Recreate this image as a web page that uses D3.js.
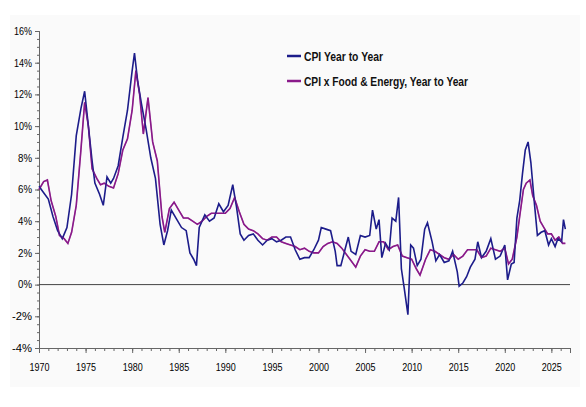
<!DOCTYPE html>
<html><head><meta charset="utf-8">
<script src="https://cdn.jsdelivr.net/npm/d3@7"></script>
<style>body{margin:0;background:#fff}svg{display:block}text{font-family:"Liberation Sans","Arial",sans-serif}</style>
</head><body><svg id="c" width="586" height="407"></svg>
<script>
const cpiYears=[1970,1970.5,1971,1971.5,1972,1972.5,1973,1973.5,1974,1974.5,1974.9,1975.3,1975.7,1976,1976.5,1976.9,1977.3,1977.7,1978,1978.5,1979,1979.5,1980,1980.25,1980.6,1981,1981.5,1982,1982.5,1983,1983.4,1983.8,1984.2,1984.8,1985.3,1985.8,1986.2,1986.6,1986.9,1987.2,1987.8,1988.3,1988.8,1989.3,1989.8,1990.3,1990.8,1991.2,1991.6,1992,1992.5,1993,1993.5,1994,1994.5,1995,1995.5,1996,1996.5,1997,1997.5,1998,1998.5,1999,1999.5,2000,2000.3,2000.8,2001.3,2001.8,2002,2002.4,2002.8,2003.2,2003.5,2004,2004.5,2005,2005.5,2005.8,2006.2,2006.5,2006.8,2007.2,2007.6,2007.9,2008.3,2008.6,2008.9,2009.2,2009.6,2009.9,2010.2,2010.6,2011,2011.4,2011.7,2012.2,2012.6,2013,2013.5,2014,2014.4,2014.9,2015.1,2015.5,2015.9,2016.3,2016.8,2017.1,2017.5,2018,2018.5,2019,2019.5,2020,2020.3,2020.7,2021,2021.3,2021.6,2021.9,2022.2,2022.5,2022.8,2023.2,2023.5,2023.9,2024.3,2024.7,2025,2025.4,2025.7,2026.1,2026.3,2026.5];
const cpiValues=[6.2,5.8,5.4,4.3,3.4,2.9,3.6,5.7,9.4,11.1,12.2,10.0,7.8,6.4,5.7,5.0,6.8,6.4,6.7,7.5,9.3,11.0,13.5,14.6,12.8,11.4,9.8,8.0,6.7,3.8,2.5,3.4,4.7,4.1,3.6,3.4,2.0,1.6,1.2,3.6,4.4,4.0,4.2,5.1,4.6,5.0,6.3,4.9,3.2,2.8,3.1,3.2,2.8,2.5,2.8,2.9,2.7,2.8,3.0,3.0,2.2,1.6,1.7,1.7,2.2,2.8,3.6,3.5,3.4,2.1,1.2,1.2,2.1,3.0,2.1,1.9,3.1,3.0,3.1,4.7,3.5,4.1,1.7,2.6,2.2,4.2,4.0,5.5,1.0,-0.2,-1.9,2.5,2.3,1.2,1.6,3.5,3.9,2.7,1.5,1.9,1.4,1.5,2.1,0.8,-0.1,0.1,0.5,1.1,1.6,2.7,1.7,2.1,2.9,1.6,1.8,2.5,0.3,1.3,1.4,4.2,5.3,7.0,8.5,9.0,7.7,5.0,3.1,3.3,3.4,2.5,2.9,2.4,2.9,2.7,4.1,3.5];
const coreYears=[1970,1970.5,1970.9,1971.3,1971.8,1972.2,1972.7,1973.1,1973.5,1974,1974.5,1974.9,1975.3,1975.7,1976.2,1976.6,1977,1977.5,1978,1978.5,1979,1979.5,1980,1980.4,1980.8,1981.2,1981.7,1982.2,1982.7,1983.2,1983.5,1984,1984.5,1985,1985.5,1986,1986.5,1987,1987.5,1988,1988.5,1989,1989.5,1990,1990.5,1991,1991.5,1992,1992.5,1993,1993.5,1994,1994.5,1995,1995.5,1996,1996.5,1997,1997.5,1998,1998.5,1999,1999.5,2000,2000.5,2001,2001.5,2002,2002.5,2003,2003.5,2004,2004.5,2005,2005.5,2006,2006.5,2007,2007.5,2008,2008.5,2009,2009.5,2010,2010.5,2010.9,2011.5,2012,2012.5,2013,2013.5,2014,2014.5,2015,2015.5,2016,2016.5,2017,2017.5,2018,2018.5,2019,2019.5,2020,2020.4,2020.8,2021.3,2021.6,2022,2022.3,2022.7,2023,2023.4,2023.8,2024.2,2024.6,2025,2025.4,2025.8,2026.2,2026.5];
const coreValues=[6.0,6.5,6.6,5.3,4.3,3.1,2.9,2.6,3.3,5.0,8.5,11.5,10.0,7.3,6.7,6.3,6.4,6.2,6.1,7.0,8.5,9.2,11.0,13.5,12.0,9.5,11.8,9.0,7.8,4.3,3.3,4.8,5.2,4.7,4.2,4.2,4.0,3.8,4.0,4.3,4.5,4.5,4.5,4.5,4.8,5.5,4.6,3.8,3.5,3.4,3.2,2.9,2.8,3.0,3.0,2.7,2.6,2.5,2.4,2.2,2.3,2.1,2.0,2.0,2.4,2.6,2.7,2.6,2.3,1.9,1.5,1.1,1.8,2.2,2.1,2.1,2.7,2.7,2.2,2.4,2.5,1.8,1.7,1.6,1.0,0.6,1.6,2.2,2.1,1.9,1.7,1.6,1.9,1.6,1.8,2.2,2.2,2.2,1.7,1.8,2.3,2.2,2.1,2.3,1.3,1.6,3.0,4.3,6.0,6.4,6.6,5.6,5.0,4.0,3.6,3.2,3.2,2.8,3.0,2.6,2.6];
const yTicks=[-4,-2,0,2,4,6,8,10,12,14,16];
const xTicks=[1970,1975,1980,1985,1990,1995,2000,2005,2010,2015,2020,2025];
const seriesNames=["CPI Year to Year","CPI x Food & Energy, Year to Year"];
const colors=["#1c1c8a","#8a1a8a"];

const svg=d3.select("#c");
svg.append("rect").attr("x",10).attr("y",15).attr("width",570).attr("height",372).attr("fill","#fafafa");
const x=d3.scaleLinear().domain([1970,2027]).range([39,570]);
const y=d3.scaleLinear().domain([-4,16]).range([348,31]);
svg.append("g").attr("transform",`translate(0,${y(-4)})`)
 .call(d3.axisBottom(x).tickValues(d3.range(1970,2028,1)).tickSize(3).tickFormat(""));
svg.append("g").attr("transform",`translate(0,${y(-4)})`)
 .call(d3.axisBottom(x).tickValues(xTicks).tickSize(5).tickFormat(d3.format("d")).tickPadding(10))
 .call(g=>g.selectAll("text").attr("font-size",11).attr("fill","#000").attr("textLength",20).attr("lengthAdjust","spacingAndGlyphs"));
svg.append("g").attr("transform",`translate(${x(1970)},0)`)
 .call(d3.axisLeft(y).tickValues(d3.range(-4,16.01,0.5)).tickSize(2).tickFormat(""));
svg.append("g").attr("transform",`translate(${x(1970)},0)`)
 .call(d3.axisLeft(y).tickValues(yTicks).tickSize(4).tickFormat(d=>d+"%").tickPadding(3))
 .call(g=>g.selectAll("text").attr("font-size",10.5).attr("fill","#000").attr("textLength",d=>d<0?20:(d>=10?18:14)).attr("lengthAdjust","spacingAndGlyphs"));
svg.selectAll(".domain").attr("stroke","#666");
svg.selectAll(".tick line").attr("stroke","#666");
svg.append("line").attr("x1",x(1970)).attr("x2",x(2027)).attr("y1",y(0)).attr("y2",y(0)).attr("stroke","#444").attr("stroke-width",1);
const line=d3.line().x(d=>x(d[0])).y(d=>y(d[1]));
svg.append("path").datum(coreYears.map((t,i)=>[t,coreValues[i]])).attr("d",line).attr("fill","none").attr("stroke",colors[1]).attr("stroke-width",1.6);
svg.append("path").datum(cpiYears.map((t,i)=>[t,cpiValues[i]])).attr("d",line).attr("fill","none").attr("stroke",colors[0]).attr("stroke-width",1.6);
svg.append("path").datum(coreYears.map((t,i)=>[t,coreValues[i]])).attr("d",line).attr("fill","none").attr("stroke",colors[1]).attr("stroke-width",1.2).attr("opacity",0.5);
const legW=[79,164];
seriesNames.forEach((n,i)=>{
 const ly=[56,81][i];
 svg.append("line").attr("x1",287).attr("x2",301).attr("y1",ly).attr("y2",ly).attr("stroke",colors[i]).attr("stroke-width",2.5);
 svg.append("text").attr("x",304).attr("y",ly+5).attr("font-size",13).attr("font-weight","bold").attr("fill","#111")
  .attr("textLength",legW[i]).attr("lengthAdjust","spacingAndGlyphs").text(n);
});
</script></body></html>
